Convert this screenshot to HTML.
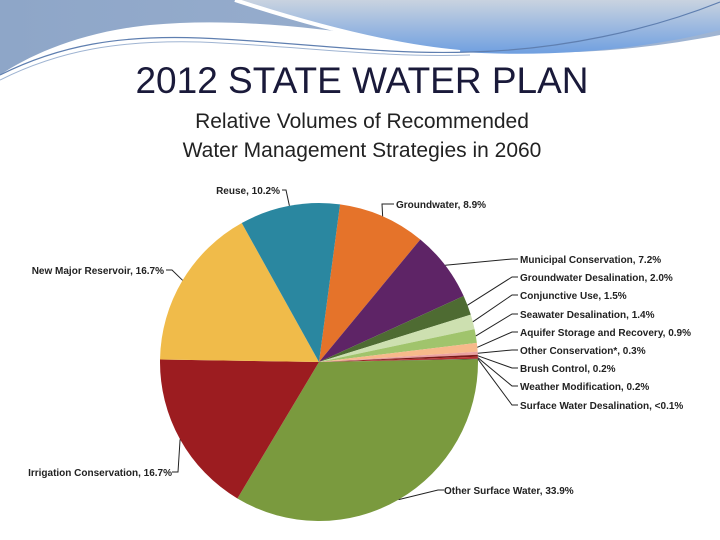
<!DOCTYPE html>
<html><head><meta charset="utf-8"><style>
body{margin:0;width:720px;height:540px;background:#fff;overflow:hidden;font-family:"Liberation Sans",sans-serif}
svg{display:block}
</style></head><body>
<svg width="720" height="540" viewBox="0 0 720 540">
<defs>
<linearGradient id="bg1" x1="0" y1="0" x2="1" y2="0"><stop offset="0" stop-color="#8ea6c8"/><stop offset="1" stop-color="#9fb4d2"/></linearGradient>
<linearGradient id="bg2" x1="0" y1="0" x2="0" y2="1"><stop offset="0" stop-color="#c9d3e0"/><stop offset="1" stop-color="#6f9fe0"/></linearGradient>
</defs>
<g>
<path d="M0,0 H720 V35 C640,50 560,58 470,48 C360,36 260,15 150,25 C80,32 30,55 0,75 Z" fill="url(#bg1)"/>
<path d="M235,0 C290,18 380,45 460,52 C560,58 650,48 720,30 V0 Z" fill="url(#bg2)"/>
<path d="M235,0 C290,18 380,45 460,52" stroke="#fff" stroke-width="4" fill="none"/>
<path d="M0,75 C60,45 120,35 200,38 C300,42 380,55 470,52 C560,50 650,30 720,2" stroke="#5f7fb0" stroke-width="1.2" fill="none"/>
<path d="M0,80 C60,50 120,40 200,42 C300,46 380,58 470,55" stroke="#9fb4d2" stroke-width="1" fill="none"/>
</g>
<text x="362" y="93" text-anchor="middle" font-size="37" fill="#1a1a3a">2012 STATE WATER PLAN</text>
<text x="362" y="128" text-anchor="middle" font-size="21" fill="#222">Relative Volumes of Recommended</text>
<text x="362" y="157" text-anchor="middle" font-size="21" fill="#222">Water Management Strategies in 2060</text>
<g id="pie"></g>
<g id="labels"></g>
</svg>
<script>
const categories=["Groundwater","Municipal Conservation","Groundwater Desalination","Conjunctive Use","Seawater Desalination","Aquifer Storage and Recovery","Other Conservation*","Brush Control","Weather Modification","Surface Water Desalination","Other Surface Water","Irrigation Conservation","New Major Reservoir","Reuse"];
const values=[8.9,7.2,2.0,1.5,1.4,0.9,0.3,0.2,0.2,0.05,33.9,16.7,16.7,10.2];
const valueLabels=["8.9%","7.2%","2.0%","1.5%","1.4%","0.9%","0.3%","0.2%","0.2%","<0.1%","33.9%","16.7%","16.7%","10.2%"];
const colors=["#e5732a","#5e2466","#4e6b32","#cde0b0","#a0c46c","#f7b98b","#e9a0a0","#7a1a1a","#b83030","#333333","#7a9a3e","#9c1c20","#f0bb4a","#2a87a0"];
const cx=319,cy=362,R=159,start=7.6;
const total=values.reduce((a,b)=>a+b,0);
const NS="http://www.w3.org/2000/svg";
const pie=document.getElementById('pie'),lab=document.getElementById('labels');
function pt(deg,r){const a=deg*Math.PI/180;return [cx+r*Math.sin(a),cy-r*Math.cos(a)];}
let ang=start;
const rightY=[259,277,295,314,332,350,368,386,405];
values.forEach((v,i)=>{
  const sweep=v/total*360,a0=ang,a1=ang+sweep;ang=a1;
  const p0=pt(a0,R),p1=pt(a1,R);
  const p=document.createElementNS(NS,'path');
  p.setAttribute('d',`M${cx},${cy} L${p0[0]},${p0[1]} A${R},${R} 0 ${sweep>180?1:0} 1 ${p1[0]},${p1[1]} Z`);
  p.setAttribute('fill',colors[i]);
  
  
  pie.appendChild(p);
  const mid=(a0+a1)/2,e=pt(mid,R);
  let lx,ly,anchor,tx;
  if(i===0){lx=390;ly=204;tx=396;anchor='start';}
  else if(i>=1&&i<=9){lx=512;ly=rightY[i-1];tx=520;anchor='start';}
  else if(i===10){lx=438;ly=490;tx=444;anchor='start';}
  else if(i===11){lx=178;ly=472;tx=172;anchor='end';}
  else if(i===12){lx=172;ly=270;tx=164;anchor='end';}
  else {lx=286;ly=190;tx=280;anchor='end';}
  const l=document.createElementNS(NS,'polyline');
  let pts;
  if(i===0)pts=`${e[0]},${e[1]} ${lx-8},${ly} ${lx+4},${ly}`;
  else if(i===13)pts=`${e[0]},${e[1]} ${lx},${ly} ${lx-4},${ly}`;
  else pts=`${e[0]},${e[1]} ${lx},${ly} ${lx+ (anchor==='start'?6:-6)},${ly}`;
  l.setAttribute('points',pts);l.setAttribute('fill','none');l.setAttribute('stroke','#222');l.setAttribute('stroke-width','1');
  
  
  lab.appendChild(l);
  const t=document.createElementNS(NS,'text');
  t.setAttribute('x',tx);t.setAttribute('y',ly+4);t.setAttribute('text-anchor',anchor);
  t.setAttribute('font-size','10');t.setAttribute('font-weight','bold');t.setAttribute('fill','#222');
  t.textContent=categories[i]+', '+valueLabels[i];
  
  
  lab.appendChild(t);
});
</script>
</body></html>
